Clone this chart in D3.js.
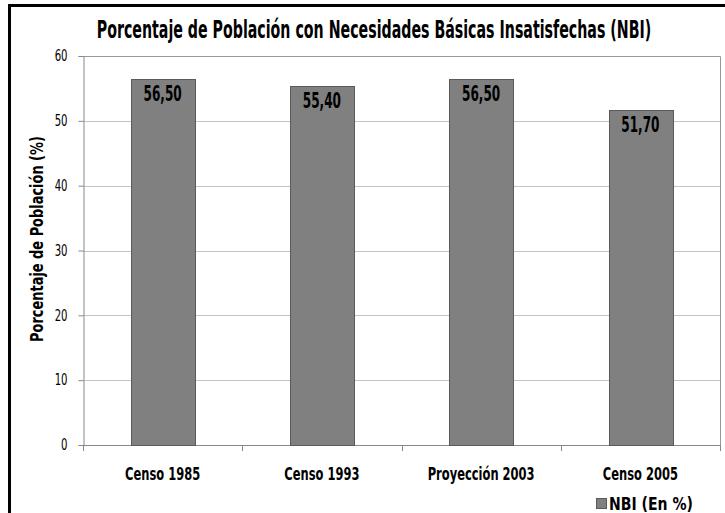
<!DOCTYPE html>
<html>
<head>
<meta charset="utf-8">
<script src="https://cdn.jsdelivr.net/npm/d3@7"></script>
<style>
  body { margin: 0; background: #fff; }
  text { font-family: "Liberation Sans Narrow", "DejaVu Sans Condensed", sans-serif; }
</style>
</head>
<body>
<div id="chart"></div>
<script>
// data
var categories = ["Censo 1985", "Censo 1993", "Proyección 2003", "Censo 2005"];
var values = [56.5, 55.4, 56.5, 51.7];
var valueLabels = ["56,50", "55,40", "56,50", "51,70"];
var yTicks = [0, 10, 20, 30, 40, 50, 60];
var seriesName = "NBI (En %)";
var title = "Porcentaje de Población con Necesidades Básicas Insatisfechas (NBI)";
var yTitle = "Porcentaje de Población (%)";

var width = 725, height = 513;
var plot = { left: 83, right: 720, top: 56, bottom: 445 };

var svg = d3.select("#chart").append("svg")
    .attr("width", width)
    .attr("height", height);

// put a text at (x, y) and squeeze it horizontally: k < 1 is a factor, k > 1 a target width
function place(sel, x, y, k, rot) {
  sel.each(function(d, i) {
    var t = d3.select(this);
    var w = this.getComputedTextLength();
    var s = k > 1 ? k / w : k;
    var px = typeof x === "function" ? x(d, i) : x;
    var py = typeof y === "function" ? y(d, i) : y;
    t.attr("transform", "translate(" + px + "," + py + ")" + (rot ? " rotate(" + rot + ")" : "") + " scale(" + s + ",1)");
  });
}

// outer frame
svg.append("path")
    .attr("d", "M9.5,513 L9.5,5.5 L725,5.5")
    .attr("fill", "none")
    .attr("stroke", "#000")
    .attr("stroke-width", 3);

var x = d3.scaleBand()
    .domain(categories)
    .range([plot.left, plot.right])
    .paddingInner(0.6)
    .paddingOuter(0.3);

var y = d3.scaleLinear()
    .domain([0, 60])
    .range([plot.bottom, plot.top]);

// gridlines
svg.append("g").selectAll("line")
    .data(yTicks.slice(1))
    .enter().append("line")
    .attr("x1", plot.left).attr("x2", plot.right)
    .attr("y1", d => Math.round(y(d)) + 0.5).attr("y2", d => Math.round(y(d)) + 0.5)
    .attr("stroke", "#c4c4c4");

// plot border (top + right)
svg.append("path")
    .attr("d", "M" + plot.left + "," + (plot.top + 0.5) + " L" + (plot.right + 0.5) + "," + (plot.top + 0.5) + " L" + (plot.right + 0.5) + "," + plot.bottom)
    .attr("fill", "none")
    .attr("stroke", "#999");

// y axis
var yAxis = svg.append("g")
    .attr("transform", "translate(" + (plot.left + 0.5) + ",0)")
    .call(d3.axisLeft(y).tickValues(yTicks).tickSize(5).tickPadding(11));
yAxis.select(".domain").attr("stroke", "#888");
yAxis.selectAll(".tick line").attr("stroke", "#888");
yAxis.attr("font-family", null);
yAxis.selectAll("text")
    .attr("font-size", 15)
    .attr("fill", "#000")
    .attr("x", null).attr("dy", "0.32em")
    .call(place, -16, 0, 0.75);

// x axis line with ticks at category boundaries
var step = x.step();
var bounds = d3.range(categories.length + 1).map(i => plot.left + i * step);
svg.append("line")
    .attr("x1", plot.left).attr("x2", plot.right)
    .attr("y1", plot.bottom + 0.5).attr("y2", plot.bottom + 0.5)
    .attr("stroke", "#888");
svg.append("g").selectAll("line")
    .data(bounds)
    .enter().append("line")
    .attr("x1", d => Math.round(d) + 0.5).attr("x2", d => Math.round(d) + 0.5)
    .attr("y1", plot.bottom).attr("y2", plot.bottom + 6)
    .attr("stroke", "#888");

// bars
svg.append("g").selectAll("rect")
    .data(values)
    .enter().append("rect")
    .attr("x", (d, i) => Math.round(x(categories[i])) + 0.5)
    .attr("y", d => Math.round(y(d)) + 0.5)
    .attr("width", Math.round(x.bandwidth()))
    .attr("height", d => plot.bottom - Math.round(y(d)))
    .attr("fill", "#808080")
    .attr("stroke", "#5a5a5a");

// value labels
svg.append("g").selectAll("text")
    .data(values)
    .enter().append("text")
    .attr("text-anchor", "middle")
    .attr("font-size", 21)
    .attr("font-weight", "bold")
    .attr("fill", "#000")
    .text((d, i) => valueLabels[i])
    .call(place, (d, i) => x(categories[i]) + x.bandwidth() / 2, d => y(d) + 22, 0.64);

// category labels
svg.append("g").selectAll("text")
    .data(categories)
    .enter().append("text")
    .attr("text-anchor", "middle")
    .attr("font-size", 18)
    .attr("font-weight", "bold")
    .attr("fill", "#000")
    .text(d => d)
    .call(place, d => x(d) + x.bandwidth() / 2, 480, 0.71);

// title
svg.append("text")
    .attr("text-anchor", "middle")
    .attr("font-size", 25)
    .attr("font-weight", "bold")
    .attr("fill", "#000")
    .text(title)
    .call(place, 374, 38, 555);

// y title
svg.append("text")
    .attr("text-anchor", "middle")
    .attr("font-size", 18)
    .attr("font-weight", "bold")
    .attr("fill", "#000")
    .text(yTitle)
    .call(place, 43, 239, 206, -90);

// legend
var legend = svg.append("g").attr("transform", "translate(596,498)");
legend.append("rect")
    .attr("width", 10).attr("height", 10)
    .attr("x", 0.5).attr("y", 0.5)
    .attr("fill", "#808080")
    .attr("stroke", "#5a5a5a");
legend.append("text")
    .attr("font-size", 18)
    .attr("font-weight", "bold")
    .attr("fill", "#000")
    .text(seriesName)
    .call(place, 13, 11.5, 84);
</script>
</body>
</html>
